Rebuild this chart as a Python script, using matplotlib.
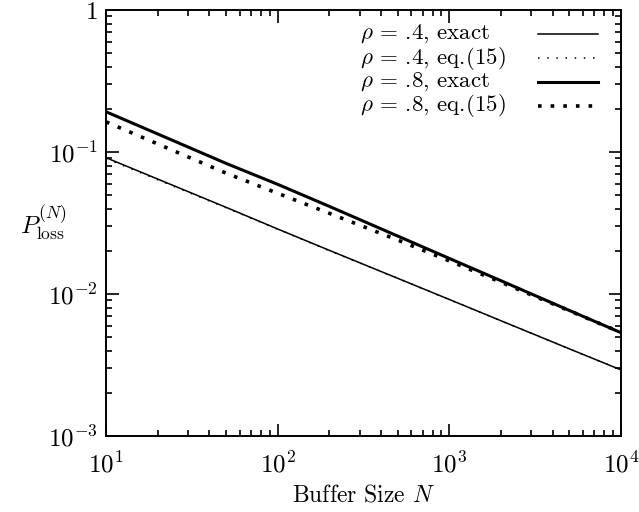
import matplotlib
matplotlib.use("Agg")
import matplotlib.pyplot as plt
from matplotlib.ticker import FixedLocator, FixedFormatter, LogLocator, NullFormatter

plt.rcParams['mathtext.fontset'] = 'cm'
plt.rcParams['font.family'] = ['cmr10', 'DejaVu Serif']
plt.rcParams['axes.unicode_minus'] = False

# ---- data ----
N = [10, 20, 50, 100, 200, 500, 1000, 2000, 5000, 10000]
rho04_exact = [0.0912, 0.0645, 0.0408, 0.0287, 0.0203, 0.0129, 0.00915, 0.00648, 0.00411, 0.00292]
rho04_eq15 = [0.0900, 0.0638, 0.0405, 0.0286, 0.0202, 0.0129, 0.00913, 0.00647, 0.00411, 0.00292]
rho08_exact = [0.192, 0.134, 0.0832, 0.0592, 0.0414, 0.0256, 0.0178, 0.0124, 0.00766, 0.00534]
rho08_eq15 = [0.163, 0.114, 0.0710, 0.0512, 0.0370, 0.0240, 0.0171, 0.0121, 0.00762, 0.00536]

labels = [r'$\rho$ = .4, exact', r'$\rho$ = .4, eq.(15)',
          r'$\rho$ = .8, exact', r'$\rho$ = .8, eq.(15)']

xticks = [10, 100, 1000, 10000]
xticklabels = [r'$10^{1}$', r'$10^{2}$', r'$10^{3}$', r'$10^{4}$']
yticks = [0.001, 0.01, 0.1, 1]
yticklabels = [r'$10^{-3}$', r'$10^{-2}$', r'$10^{-1}$', r'$1$']

fig = plt.figure(figsize=(6.39, 5.12), dpi=100)
ax = fig.add_axes([106/639, 1-436/512, (621-106)/639, (436-10)/512])

styles = [dict(color='black', lw=1.1, linestyle='-'),
          dict(color='black', lw=1.1, linestyle=(0, (1, 5))),
          dict(color='black', lw=2.2, linestyle='-'),
          dict(color='black', lw=2.6, linestyle=(0, (1, 2.5)), dash_capstyle='butt')]
series = [rho04_exact, rho04_eq15, rho08_exact, rho08_eq15]

for ys, st in zip(series, styles):
    ax.plot(N, ys, **st)

ax.set_xscale('log')
ax.set_yscale('log')
ax.set_xlim(10, 10000)
ax.set_ylim(0.001, 1)

fs = 18
ax.xaxis.set_major_locator(FixedLocator(xticks))
ax.xaxis.set_major_formatter(FixedFormatter(xticklabels))
ax.yaxis.set_major_locator(FixedLocator(yticks))
ax.yaxis.set_major_formatter(FixedFormatter(yticklabels))
ax.xaxis.set_minor_locator(LogLocator(base=10, subs=range(2, 10)))
ax.yaxis.set_minor_locator(LogLocator(base=10, subs=range(2, 10)))
ax.xaxis.set_minor_formatter(NullFormatter())
ax.yaxis.set_minor_formatter(NullFormatter())
ax.tick_params(which='both', direction='in', top=True, right=True, labelsize=fs, colors='black')
ax.tick_params(which='major', length=9, width=1.2)
ax.tick_params(axis='x', which='major', pad=11)
ax.tick_params(axis='y', which='major', pad=6)
ax.tick_params(which='minor', length=4.5, width=1.2)
for s in ax.spines.values():
    s.set_linewidth(1.4)

ax.set_xlabel(r'Buffer Size $N$', fontsize=17, labelpad=5)
ax.set_ylabel(r'$P_{\mathrm{loss}}^{(N)}$', fontsize=fs, rotation=0, labelpad=3, va='center')

# gnuplot-style key: left-aligned text, sample line to the right
row_y = [0.944, 0.887, 0.831, 0.775]
for lab, st, yy in zip(labels, styles, row_y):
    ax.text(0.493, yy, lab, transform=ax.transAxes, ha='left', va='center', fontsize=16.5)
    ax.plot([0.839, 0.955], [yy, yy], transform=ax.transAxes, **st)

fig.savefig('out.png', dpi=100)
